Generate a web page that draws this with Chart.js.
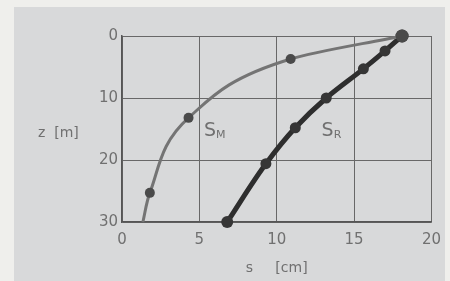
<!DOCTYPE html>
<html>
<head>
<meta charset="utf-8">
<script src="https://cdn.jsdelivr.net/npm/chart.js@4"></script>
<style>
  html, body { margin: 0; padding: 0; background: #efefec; }
  #wrap { position: relative; width: 450px; height: 281px; }
  #panel { position: absolute; left: 14px; top: 7px; width: 431px; height: 274px; background: #d8d9da; }
  canvas { position: absolute; left: 0; top: 0; }
</style>
</head>
<body>
<div id="wrap">
  <div id="panel"></div>
  <canvas id="chart" width="450" height="281"></canvas>
</div>
<script>
// settlement s [cm] against depth z [m]
const depthM = [0, 3.7, 13.2, 25.3, 30];
const settleM = [18.1, 10.9, 4.3, 1.8, 1.35];
const depthR = [0, 2.4, 5.3, 10, 14.8, 20.6, 30];
const settleR = [18.1, 17.0, 15.6, 13.2, 11.2, 9.3, 6.8];
const xTicks = [0, 5, 10, 15, 20];
const yTicks = [0, 10, 20, 30];

const toPoints = (xs, ys) => xs.map((x, i) => ({ x: x, y: ys[i] }));

const fontFam = '"DejaVu Sans", sans-serif';
const textCol = '#707070';

const labelPlugin = {
    id: 'labels',
    afterDraw(chart) {
        const c = chart.ctx;
        const xs = chart.scales.x, ys = chart.scales.y;
        c.save();
        c.fillStyle = textCol;
        c.textBaseline = 'middle';
        // y axis title, horizontal
        c.font = '14px ' + fontFam;
        c.fillText('z  [m]', 38, 133);
        // curve names with subscripts
        const sub = (main, s, px, py) => {
            c.font = '19px ' + fontFam;
            c.fillText(main, px, py);
            const w = c.measureText(main).width;
            c.font = '11px ' + fontFam;
            c.fillText(s, px + w, py + 4);
        };
        sub('S', 'M', xs.getPixelForValue(5.3), ys.getPixelForValue(15.4));
        sub('S', 'R', xs.getPixelForValue(12.9), ys.getPixelForValue(15.4));
        c.restore();
    }
};

new Chart(document.getElementById('chart').getContext('2d'), {
    type: 'line',
    data: {
        datasets: [{
            label: 'SM',
            data: toPoints(settleM, depthM),
            borderColor: '#747474',
            borderWidth: 3,
            pointBackgroundColor: '#4a4a4a',
            pointBorderWidth: 0,
            pointRadius: [6.5, 5, 5, 5, 0],
            cubicInterpolationMode: 'monotone',
            clip: false
        }, {
            label: 'SR',
            data: toPoints(settleR, depthR),
            borderColor: '#2e2e2e',
            borderWidth: 5,
            pointBackgroundColor: '#363636',
            pointBorderWidth: 0,
            pointRadius: [6.5, 5.5, 5.5, 5.5, 5.5, 5.5, 6],
            cubicInterpolationMode: 'monotone',
            clip: false
        }]
    },
    options: {
        responsive: false,
        animation: false,
        indexAxis: 'y',
        layout: { padding: { top: 36, right: 16, left: 0, bottom: 0 } },
        plugins: {
            legend: { display: false },
            tooltip: { enabled: false }
        },
        scales: {
            x: {
                type: 'linear',
                min: 0,
                max: 20,
                afterBuildTicks: (s) => { s.ticks = xTicks.map(v => ({ value: v })); },
                afterFit: (s) => { s.height = 59; },
                grid: { color: '#686868', lineWidth: 1, drawTicks: false },
                border: { color: '#555', width: 1.5 },
                ticks: { color: textCol, font: { family: fontFam, size: 15 }, padding: 9 },
                title: {
                    display: true,
                    text: 's     [cm]',
                    color: textCol,
                    font: { family: fontFam, size: 14 },
                    padding: { top: 2 }
                }
            },
            y: {
                type: 'linear',
                min: 0,
                max: 30,
                reverse: true,
                afterBuildTicks: (s) => { s.ticks = yTicks.map(v => ({ value: v })); },
                afterFit: (s) => { s.width = 122; },
                grid: { color: '#686868', lineWidth: 1, drawTicks: false },
                border: { color: '#555', width: 1.5 },
                ticks: { color: textCol, font: { family: fontFam, size: 15 }, padding: 4 }
            }
        }
    },
    plugins: [labelPlugin]
});
</script>
</body>
</html>
